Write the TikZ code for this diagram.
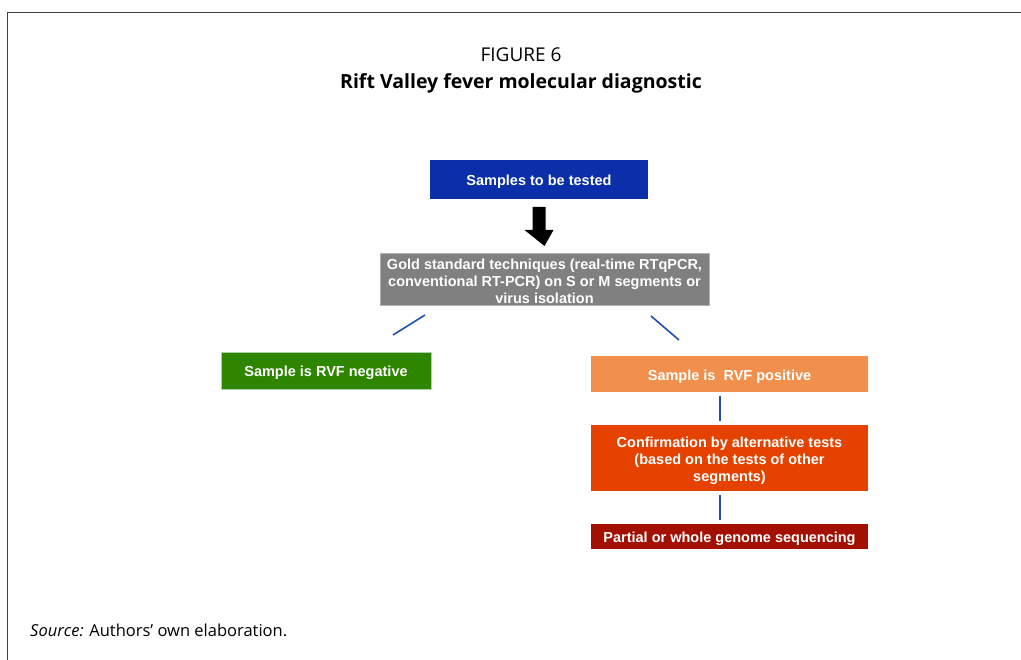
\documentclass[tikz,border=0pt]{standalone}
\usepackage{fontspec}
\setmainfont{Open Sans}
\newfontfamily\arialf{Liberation Sans}
\usetikzlibrary{arrows.meta,calc}
\definecolor{cblue}{HTML}{0A2FA8}
\definecolor{cgray}{HTML}{808080}
\definecolor{cgreen}{HTML}{2E8600}
\definecolor{corangel}{HTML}{F0904C}
\definecolor{corange}{HTML}{E54200}
\definecolor{cred}{HTML}{A30F00}
\definecolor{cline}{HTML}{1F4FB5}
\tikzset{
  bx/.style={anchor=north west, inner sep=0pt, outer sep=0pt},
  tx/.style={inner sep=0pt, text=white,
    font=\arialf\bfseries\fontsize{14.5}{17}\selectfont, align=center},
  conn/.style={cline, line width=1.6pt}
}
\newcommand{\flowbox}[8]{%
  \node[bx, fill=#6, #8, minimum width=#4pt, minimum height=#5pt] (#1) at (#2,#3) {};
  \node[tx] (#1t) at ([yshift=-2.5pt]#1.center) {#7};
}
\begin{document}
\begin{tikzpicture}[x=1pt,y=-1pt]
\useasboundingbox (0,0) rectangle (1021,660);
\draw[line width=1pt, black!75] (7,660) -- (7,13) -- (1021,13);
\node[font=\fontsize{19}{22}\selectfont] (fig) at (521,55) {FIGURE 6};
\node[font=\bfseries\fontsize{19.5}{23}\selectfont] (title) at (521,83) {Rift Valley fever molecular diagnostic};
% boxes
\flowbox{s}{430}{160}{218}{39}{cblue}{Samples to be tested}{}
\flowbox{g}{380}{253}{329}{52}{cgray}{Gold standard techniques (real-time RTqPCR,\\conventional RT-PCR) on S or M segments or\\virus isolation}{draw=black!30}
\flowbox{neg}{221}{352}{210}{37}{cgreen}{Sample is RVF negative}{draw=green!30!gray!50}
\flowbox{pos}{591}{356}{277}{36}{corangel}{Sample is\ \ RVF positive}{}
\flowbox{conf}{591}{425}{277}{66}{corange}{Confirmation by alternative tests\\(based on the tests of other\\segments)}{}
\flowbox{seq}{591}{524}{277}{25}{cred}{Partial or whole genome sequencing}{}
% black arrow
\coordinate (a1) at ([yshift=-8pt]s.south);
\coordinate (a2) at ([yshift=7pt]g.north);
\fill[black] ($(a1)+(-6.5,0)$) -- ($(a1)+(6.5,0)$) -- ($(a1)+(6.5,23)$) -- ($(a1)+(14.5,23)$) -- (a2) -- ($(a1)+(-14.5,23)$) -- ($(a1)+(-6.5,23)$) -- cycle;
% connectors
\coordinate (l1) at (425,315); \coordinate (l2) at (393,335);
\coordinate (r1) at (651,316); \coordinate (r2) at (679,340);
\draw[conn] (l1) -- (l2);
\draw[conn] (r1) -- (r2);
\draw[conn] ([xshift=-9.5pt,yshift=-4pt]pos.south) -- ([xshift=-9.5pt,yshift=4pt]conf.north);
\draw[conn] ([xshift=-9.5pt,yshift=-4pt]conf.south) -- ([xshift=-9.5pt,yshift=4pt]seq.north);
\node[anchor=west, inner sep=0pt, font=\fontsize{16.5}{19}\selectfont] (src) at (30,630) {\textit{Source:} Authors’ own elaboration.};
\end{tikzpicture}
\end{document}
